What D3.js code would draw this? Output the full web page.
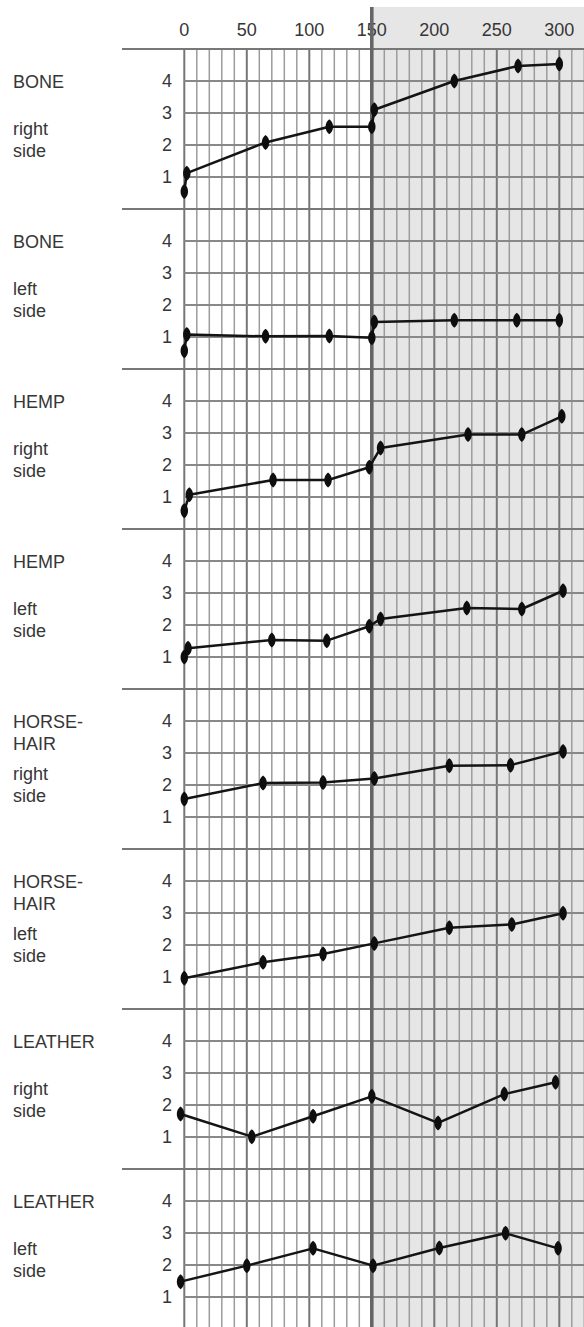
<!DOCTYPE html>
<html><head><meta charset="utf-8">
<script src="https://cdn.jsdelivr.net/npm/d3@7"></script>
<style>html,body{margin:0;padding:0;background:#fff;}svg{display:block;}</style>
</head><body>
<script>
// ---- data ----
const xTicks = [0, 50, 100, 150, 200, 250, 300];
const yTicks = [1, 2, 3, 4];
const titles = [["BONE"], ["BONE"], ["HEMP"], ["HEMP"], ["HORSE-", "HAIR"], ["HORSE-", "HAIR"], ["LEATHER"], ["LEATHER"]];
const sides = ["right", "left", "right", "left", "right", "left", "right", "left"];

const boneRightX = [0, 2, 65, 116, 150, 152, 216, 267, 300];
const boneRightY = [0.55, 1.12, 2.08, 2.57, 2.57, 3.1, 4.0, 4.47, 4.53];
const boneLeftX = [0, 2, 65, 116, 150, 152, 216, 266, 300];
const boneLeftY = [0.57, 1.08, 1.02, 1.03, 0.98, 1.47, 1.52, 1.52, 1.52];
const hempRightX = [0, 4, 71, 115, 148, 157, 227, 270, 302];
const hempRightY = [0.57, 1.07, 1.53, 1.53, 1.93, 2.53, 2.95, 2.95, 3.52];
const hempLeftX = [0, 3, 70, 114, 148, 157, 226, 270, 303];
const hempLeftY = [1.0, 1.27, 1.53, 1.51, 1.96, 2.19, 2.53, 2.5, 3.07];
const horseRightX = [0, 63, 111, 152, 212, 261, 303];
const horseRightY = [1.56, 2.06, 2.08, 2.2, 2.6, 2.62, 3.05];
const horseLeftX = [0, 63, 111, 152, 212, 262, 303];
const horseLeftY = [0.96, 1.46, 1.72, 2.05, 2.54, 2.64, 2.99];
const leatherRightX = [-3, 54, 103, 150, 203, 256, 297];
const leatherRightY = [1.72, 1.01, 1.65, 2.27, 1.44, 2.34, 2.71];
const leatherLeftX = [-3, 50, 103, 151, 204, 257, 299];
const leatherLeftY = [1.48, 1.98, 2.52, 1.98, 2.53, 2.99, 2.52];

const seriesX = [boneRightX, boneLeftX, hempRightX, hempLeftX, horseRightX, horseLeftX, leatherRightX, leatherLeftX];
const seriesY = [boneRightY, boneLeftY, hempRightY, hempLeftY, horseRightY, horseLeftY, leatherRightY, leatherLeftY];

// ---- layout ----
const W = 584, H = 1327;
const font = "'Liberation Sans', Arial, sans-serif";
const textCol = "#363636";
const x = d3.scaleLinear().domain([0, 300]).range([184.3, 559.3]);
const panelTop = d3.scaleLinear().domain([0, 8]).range([49, 1329]);
const panelH = 160;
const gridLeft = 122;

const svg = d3.select("body").append("svg").attr("width", W).attr("height", H);

// shaded right half
svg.append("rect").attr("x", x(150)).attr("y", 7).attr("width", W - x(150)).attr("height", H - 7)
  .attr("fill", "#e6e6e6");

// vertical grid
const vLines = d3.range(0, 330, 10);
svg.append("g").selectAll("line").data(vLines).join("line")
  .attr("x1", d => x(d)).attr("x2", d => x(d))
  .attr("y1", panelTop(0)).attr("y2", H)
  .attr("stroke", d => d % 50 === 0 ? "#767676" : "#9c9c9c")
  .attr("stroke-width", d => d % 50 === 0 ? 2 : 1.5);

// panels
const panels = d3.range(8);
panels.forEach(i => {
  const top = panelTop(i);
  const y = d3.scaleLinear().domain([0, 5]).range([top + panelH, top]);
  const g = svg.append("g");
  // separator
  g.append("line").attr("x1", gridLeft).attr("x2", W).attr("y1", y(5)).attr("y2", y(5))
    .attr("stroke", "#777").attr("stroke-width", 2.2);
  // gridlines
  g.selectAll("line.h").data(yTicks).join("line").attr("class", "h")
    .attr("x1", x(0)).attr("x2", W).attr("y1", d => y(d)).attr("y2", d => y(d))
    .attr("stroke", "#888").attr("stroke-width", 1.9);
  // tick labels
  g.selectAll("text.t").data(yTicks).join("text").attr("class", "t")
    .attr("x", 167).attr("y", d => y(d)).attr("dy", "0.36em")
    .attr("text-anchor", "middle").attr("font-family", font).attr("font-size", 18)
    .attr("fill", textCol).text(d => d);
  // title label lines
  const t = titles[i];
  g.selectAll("text.title").data(t).join("text").attr("class", "title")
    .attr("x", 13).attr("y", (d, k) => top + 39 + k * 21.5)
    .attr("font-family", font).attr("font-size", 18).attr("fill", textCol).text(d => d);
  // side label lines
  const base = t.length > 1 ? 91 : 86;
  g.selectAll("text.side").data([sides[i], "side"]).join("text").attr("class", "side")
    .attr("x", 13).attr("y", (d, k) => top + base + k * 22)
    .attr("font-family", font).attr("font-size", 18).attr("fill", textCol).text(d => d);
});

// top axis labels
svg.append("g").selectAll("text").data(xTicks).join("text")
  .attr("x", d => x(d)).attr("y", 36)
  .attr("text-anchor", "middle").attr("font-family", font).attr("font-size", 18)
  .attr("fill", textCol).text(d => d);

// thick 150 line
svg.append("line").attr("x1", x(150)).attr("x2", x(150)).attr("y1", 7).attr("y2", H)
  .attr("stroke", "#666").attr("stroke-width", 3.6);

// data
const marker = "M0,-7.5C5,-4.5 5,4.5 0,7.5C-5,4.5 -5,-4.5 0,-7.5Z";
panels.forEach(i => {
  const top = panelTop(i);
  const y = d3.scaleLinear().domain([0, 5]).range([top + panelH, top]);
  const pts = seriesX[i].map((v, k) => [v, seriesY[i][k]]);
  const line = d3.line().x(d => x(d[0])).y(d => y(d[1]));
  svg.append("path").attr("d", line(pts)).attr("fill", "none")
    .attr("stroke", "#141414").attr("stroke-width", 2.5).attr("stroke-linejoin", "round");
  svg.append("g").selectAll("path").data(pts).join("path")
    .attr("d", marker).attr("transform", d => `translate(${x(d[0])},${y(d[1])})`)
    .attr("fill", "#0e0e0e");
});
</script>
</body></html>
